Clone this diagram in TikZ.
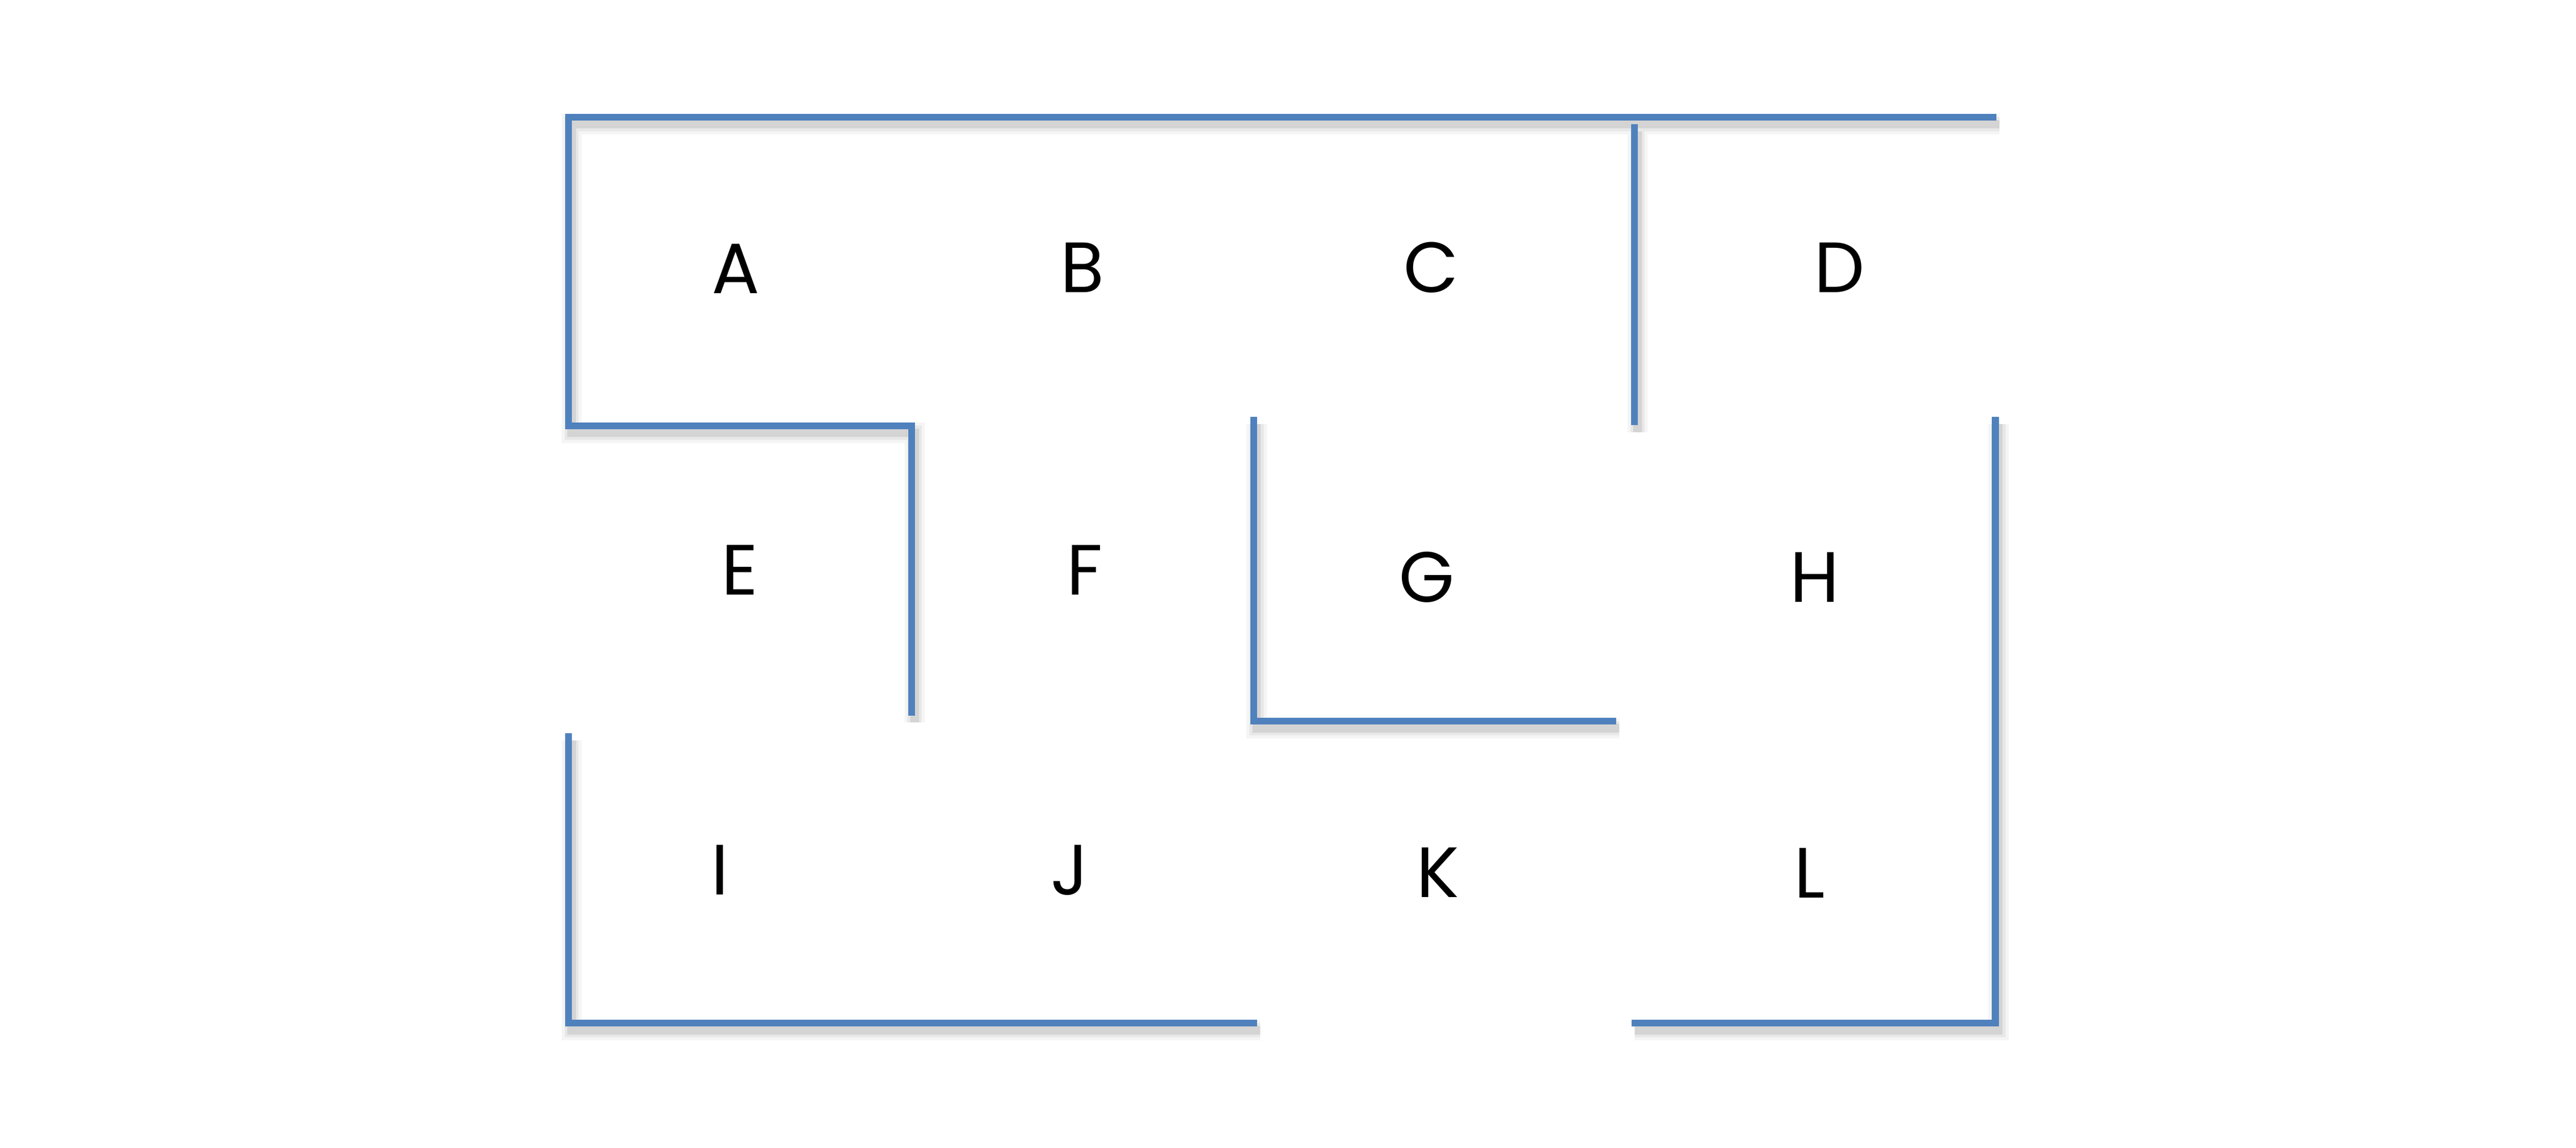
\documentclass[tikz,border=0pt]{standalone}
\usepackage{fontspec}
\setmainfont{Poppins}
\definecolor{mzWall}{RGB}{79, 129, 189}
\definecolor{mzText}{RGB}{0, 0, 0}
\usepackage{tikz}
\usetikzlibrary{calc}
\tikzset{
  % Duvar stili (golgeli)
  wall/.style={
    draw=mzWall,
    line width=0.135cm,
    line cap=butt,
    line join=miter,
    preaction={draw=black!4, line width=0.40cm, transform canvas={xshift=0.06cm, yshift=-0.14cm}},
    preaction={draw=black!9, line width=0.28cm, transform canvas={xshift=0.06cm, yshift=-0.14cm}},
    preaction={draw=black!17, line width=0.17cm, transform canvas={xshift=0.06cm, yshift=-0.14cm}}
  },
  % Oda etiketi
  room/.style={
    font=\fontsize{40pt}{44pt}\selectfont,
    text=mzText,
    inner sep=0pt
  },
}
\begin{document}
\begin{tikzpicture}
  \fill[white] (0,0) rectangle (50.84,-22.65);
  \useasboundingbox (0,0) rectangle (50.84,-22.65);

  % Odalar
  \node[room] (A) at (14.52,-5.30) {A};
  \node[room] (B) at (21.36,-5.28) {B};
  \node[room] (C) at (28.25,-5.28) {C};
  \node[room] (D) at (36.30,-5.28) {D};
  \node[room] (E) at (14.60,-11.25) {E};
  \node[room] (F) at (21.41,-11.25) {F};
  \node[room] (G) at (28.16,-11.39) {G};
  \node[room] (H) at (35.81,-11.39) {H};
  \node[room] (I) at (14.21,-17.17) {I};
  \node[room] (J) at (21.11,-17.17) {J};
  \node[room] (K) at (28.38,-17.22) {K};
  \node[room] (L) at (35.71,-17.23) {L};

  % Duvarlar
  \draw[wall] (39.40,-2.31) -- (11.22,-2.31) -- (11.22,-8.40)
    -- (17.99,-8.40) -- (17.99,-14.12);
  \draw[wall] (32.26,-2.45) -- (32.26,-8.39);
  \draw[wall] (24.74,-8.23) -- (24.74,-14.23) -- (31.90,-14.23);
  \draw[wall] (39.38,-8.23) -- (39.38,-20.19) -- (32.20,-20.19);
  \draw[wall] (11.22,-14.47) -- (11.22,-20.19) -- (24.81,-20.19);
\end{tikzpicture}
\end{document}
